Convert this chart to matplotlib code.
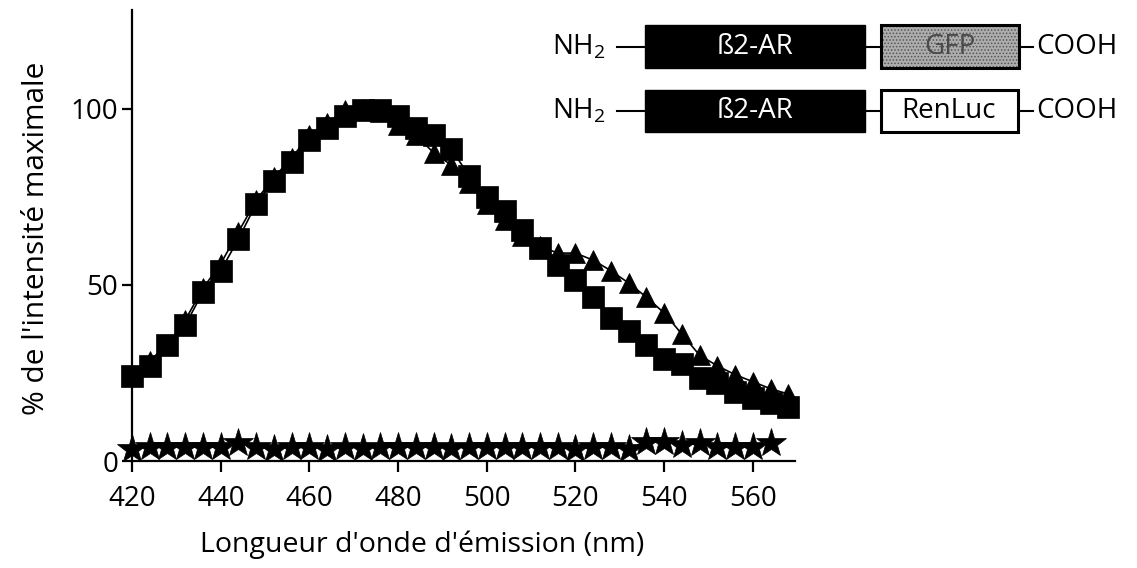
import matplotlib
matplotlib.use("Agg")
import matplotlib.pyplot as plt
from matplotlib.patches import Rectangle

plt.rcParams['font.family'] = ['Open Sans', 'DejaVu Sans']
plt.rcParams['mathtext.fontset'] = 'custom'
plt.rcParams['mathtext.rm'] = 'Open Sans'
plt.rcParams['hatch.linewidth'] = 0.7

# ---------------- data ----------------
wavelength = [420, 424, 428, 432, 436, 440, 444, 448, 452, 456, 460, 464, 468,
              472, 476, 480, 484, 488, 492, 496, 500, 504, 508, 512, 516, 520,
              524, 528, 532, 536, 540, 544, 548, 552, 556, 560, 564, 568]

squares = [24, 27, 33, 38.5, 48, 54, 63, 73, 79.5, 85, 91, 94.5, 98,
           99.5, 99.5, 98, 94.5, 92.5, 88.5, 81, 75, 71, 65.5, 60.5, 55.5, 51.5,
           46.5, 40.5, 37, 33, 29, 27.5, 23.5, 22, 19.5, 17.8, 16.4, 15.3]

triangles = [24, 28.5, 33, 40, 49, 56, 65, 74, 80.5, 86, 92.5, 96, 99.5,
             100, 99, 95.5, 92.5, 87.5, 84, 79, 73, 68.5, 64, 61, 59, 59,
             57, 54, 50.5, 46.5, 42, 36, 30, 27, 24.5, 22.5, 20.5, 19]

star_wavelength = [420, 424, 428, 432, 436, 440, 444, 448, 452, 456, 460, 464,
                   468, 472, 476, 480, 484, 488, 492, 496, 500, 504, 508, 512,
                   516, 520, 524, 528, 532, 536, 540, 544, 548, 552, 556, 560, 564]
stars = [3.5, 4, 4, 4, 4, 4, 5, 4, 3.5, 4, 4, 3.5,
         4, 3.8, 4, 4, 4, 4, 3.8, 4, 4, 4, 4, 4,
         4, 3.5, 4, 4, 3.5, 5.5, 5.5, 4.5, 5, 4, 4, 4, 5]

xticks = [420, 440, 460, 480, 500, 520, 540, 560]
yticks = [0, 50, 100]

xlabel = "Longueur d'onde d'émission (nm)"
ylabel = "% de l'intensité maximale"

# ---------------- figure ----------------
W, H = 1137, 568
fig = plt.figure(figsize=(W / 100, H / 100), dpi=100)
ax = fig.add_axes([132 / W, (H - 461) / H, (795 - 132) / W, 451 / H])

ax.plot(wavelength, triangles, color='black', lw=1.2, marker='^', ms=14,
        mfc='black', mec='black', mew=0.5, clip_on=False, zorder=3)
ax.plot(wavelength, squares, color='black', lw=1.2, marker='s', ms=16,
        mfc='black', mec='black', mew=0.5, clip_on=False, zorder=4)
ax.plot(star_wavelength, stars, color='black', lw=1.2, marker='*', ms=22,
        mfc='black', mec='black', mew=0.5, clip_on=False, zorder=5)

ax.set_xlim(420, 569.5)
ax.set_ylim(0, 128)
ax.set_xticks(xticks)
ax.set_yticks(yticks)
for s in ('top', 'right'):
    ax.spines[s].set_visible(False)
for s in ('left', 'bottom'):
    ax.spines[s].set_linewidth(1.6)
ax.tick_params(axis='x', length=8, width=1.6, labelsize=20, pad=9)
ax.tick_params(axis='y', length=7, width=1.6, labelsize=20, pad=3)

ax.set_xlabel(xlabel, fontsize=20.5)
ax.xaxis.set_label_coords(0.437, -0.155)
ax.set_ylabel(ylabel, fontsize=21.5)
ax.yaxis.set_label_coords(-0.122, 0.494)

# ---------------- construct diagram (pixel overlay) ----------------
ov = fig.add_axes([0, 0, 1, 1], zorder=10)
ov.set_xlim(0, W)
ov.set_ylim(H, 0)
ov.axis('off')
ov.patch.set_alpha(0)

rows = [(25, 68, 47, 'GFP'), (90, 132, 111, 'RenLuc')]
for top, bot, cy, tag in rows:
    ov.text(552, cy, r'NH$_\mathregular{2}$', fontsize=20, ha='left', va='center')
    ov.plot([617, 645], [cy, cy], color='black', lw=1.5)
    ov.add_patch(Rectangle((645, top), 220, bot - top, facecolor='black',
                           edgecolor='black', lw=1))
    ov.text(755, cy, 'ß2-AR', fontsize=20, color='white', ha='center', va='center')
    ov.plot([865, 881], [cy, cy], color='black', lw=1.5)
    if tag == 'GFP':
        ov.add_patch(Rectangle((881, top), 138, bot - top, facecolor='#adadad',
                               edgecolor='#555555', lw=0, hatch='.....'))
        ov.add_patch(Rectangle((881, top), 138, bot - top, facecolor='none',
                               edgecolor='black', lw=2.2))
        ov.text(950, cy, 'GFP', fontsize=20, color='#4a4a4a', ha='center', va='center')
    else:
        ov.add_patch(Rectangle((881, top), 137, bot - top, facecolor='white',
                               edgecolor='black', lw=2.2))
        ov.text(949, cy, 'RenLuc', fontsize=20, color='black', ha='center', va='center')
    ov.plot([1019, 1033], [cy, cy], color='black', lw=1.5)
    ov.text(1036, cy, 'COOH', fontsize=20, ha='left', va='center')

fig.savefig('out.png', dpi=100)
